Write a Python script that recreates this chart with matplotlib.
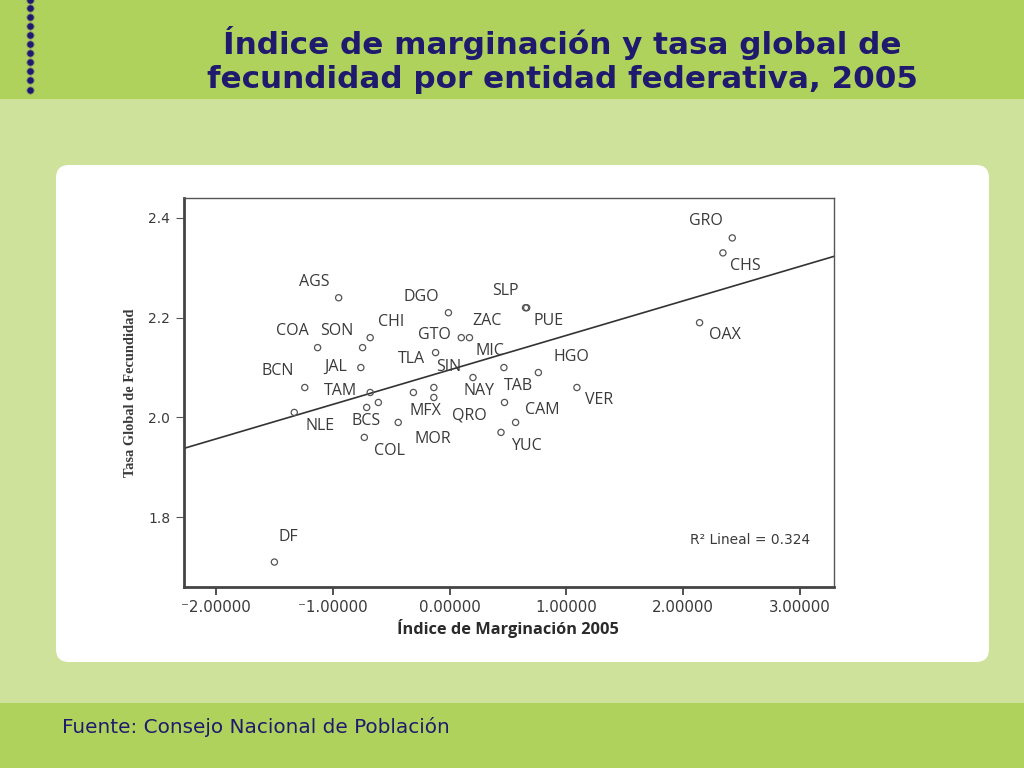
import matplotlib
matplotlib.use("Agg")
import matplotlib.pyplot as plt
from matplotlib.patches import FancyBboxPatch, Rectangle

# puntos sin etiqueta propia incluidos
marg = [-0.95, -0.01, -0.68, -0.745, -1.13, -0.76, -1.24, -0.68, -1.33, -0.61, -0.71,
        -0.44, -0.73, -0.31, -0.135, -0.135, -0.12, 0.10, 0.17, 0.20, 0.65, 0.66,
        0.465, 0.76, 1.09, 0.47, 0.565, 0.44, 2.14, 2.34, 2.42, -1.50]
tgf = [2.24, 2.21, 2.16, 2.14, 2.14, 2.10, 2.06, 2.05, 2.01, 2.03, 2.02,
       1.99, 1.96, 2.05, 2.06, 2.04, 2.13, 2.16, 2.16, 2.08, 2.22, 2.22,
       2.10, 2.09, 2.06, 2.03, 1.99, 1.97, 2.19, 2.33, 2.36, 1.71]

fit_x = [-2.274, 3.291]
fit_y = [1.938, 2.323]

x_ticks = [-2, -1, 0, 1, 2, 3]
x_tick_labels = ["⁻2.00000", "⁻1.00000", "0.00000", "1.00000", "2.00000", "3.00000"]
y_ticks = [1.8, 2.0, 2.2, 2.4]

state_names = ["AGS", "DGO", "SLP", "CHI", "COA", "SON", "GTO", "ZAC", "PUE", "MIC", "TLA", "SIN",
               "JAL", "BCN", "TAM", "NAY", "TAB", "HGO", "VER", "MFX", "QRO", "CAM", "BCS", "NLE",
               "MOR", "COL", "YUC", "GRO", "CHS", "OAX", "DF"]
# centro de cada etiqueta en pixeles de la imagen
name_px = [(314, 282), (421, 297), (505, 291), (391, 322), (292, 331), (337, 331), (434, 335),
           (487, 321), (549, 321), (490, 351), (411, 359), (449, 367), (336, 367), (278, 371),
           (340, 391), (479, 391), (518, 386), (571, 357), (599, 400), (425, 411), (469, 415),
           (542, 410), (366, 421), (320, 426), (433, 439), (389, 451), (526, 446), (706, 221),
           (745, 266), (725, 335), (288, 537)]

BG = "#cfe29b"
BAND = "#aed25c"
NAVY = "#1f1a6e"
INK = "#3a3a3a"

fig = plt.figure(figsize=(10.24, 7.68), dpi=100, facecolor=BG)

# fondo de la diapositiva en pixeles
bg = fig.add_axes([0, 0, 1, 1])
bg.set_xlim(0, 1024)
bg.set_ylim(768, 0)
bg.axis("off")
bg.add_patch(Rectangle((0, 0), 1024, 99, color=BAND, lw=0))
bg.add_patch(Rectangle((0, 703), 1024, 65, color=BAND, lw=0))
bg.add_patch(FancyBboxPatch((56, 165), 933, 497, boxstyle="round,pad=0,rounding_size=13",
                            fc="white", ec="none", lw=0))
bg.scatter([30] * 11, [0, 8, 17, 26, 35, 44, 53, 62, 71, 80, 90], s=28, color=NAVY,
           edgecolors="#8a9a70", linewidths=0.6, zorder=3)

bg.text(562, 43, "Índice de marginación y tasa global de", ha="center", va="center",
        fontsize=22.3, fontweight="bold", color=NAVY)
bg.text(562, 80, "fecundidad por entidad federativa, 2005", ha="center", va="center",
        fontsize=22.3, fontweight="bold", color=NAVY)
bg.text(62, 727, "Fuente: Consejo Nacional de Población", ha="left", va="center",
        fontsize=14.4, color=NAVY)

# grafica
ax = fig.add_axes([184 / 1024, 1 - 587 / 768, 650 / 1024, 389 / 768])
ax.set_facecolor("white")
ax.set_xlim(-2.274, 3.291)
ax.set_ylim(1.66, 2.44)
ax.scatter(marg, tgf, s=20, facecolors="none", edgecolors="#555555", linewidths=0.9, zorder=3)
ax.plot(fit_x, fit_y, color="#333333", lw=1.2, zorder=2)

for s in ["left", "bottom"]:
    ax.spines[s].set_linewidth(2)
    ax.spines[s].set_color("#444444")
for s in ["top", "right"]:
    ax.spines[s].set_linewidth(1)
    ax.spines[s].set_color("#555555")

ax.set_xticks(x_ticks)
ax.set_xticklabels(x_tick_labels, fontsize=10.8, color=INK)
ax.set_yticks(y_ticks)
ax.set_yticklabels([str(v) for v in y_ticks], fontsize=10, color=INK)
ax.tick_params(axis="x", length=6, width=1.2, color="#333333", pad=3)
ax.tick_params(axis="y", length=6, width=0.8, color="#555555", pad=4)

# etiquetas de los estados sobre el eje de fondo, por encima de la grafica
top = fig.add_axes([0, 0, 1, 1], facecolor="none")
top.set_xlim(0, 1024)
top.set_ylim(768, 0)
top.axis("off")
for name, (px, py) in zip(state_names, name_px):
    top.text(px, py, name, ha="center", va="center", fontsize=11.5, color=INK,
             family="Open Sans")
top.text(750, 540, "R² Lineal = 0.324", ha="center", va="center", fontsize=9.9, color=INK)
top.text(130, 393, "Tasa Global de Fecundidad", rotation=90, ha="center", va="center",
         fontsize=10.4, fontweight="bold", color=INK, family="Liberation Serif")
top.text(508, 629, "Índice de Marginación 2005", ha="center", va="center",
         fontsize=11.8, fontweight="bold", color="#2a2a2a", family="Open Sans")

fig.savefig("out.png", dpi=100, facecolor=fig.get_facecolor())
